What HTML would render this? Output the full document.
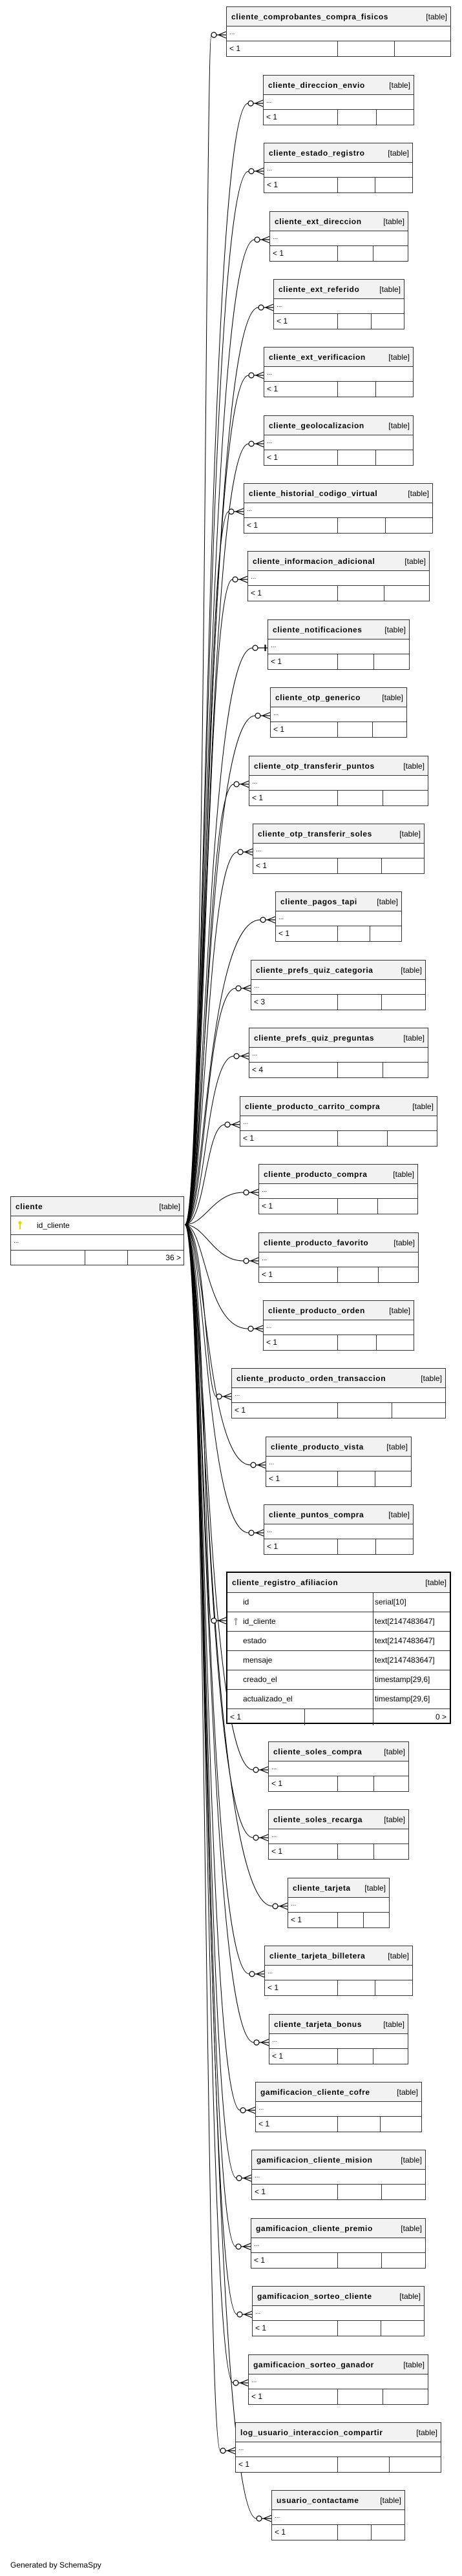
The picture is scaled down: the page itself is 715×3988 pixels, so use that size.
<!DOCTYPE html>
<html><head><meta charset="utf-8"><style>
body{margin:0;width:715px;height:3988px;background:#fff;position:relative;font-family:"Liberation Sans",sans-serif;overflow:hidden}
.t{position:absolute;border:1px solid #333;background:#fff;box-sizing:border-box;font-size:12px;color:#000}
.h{height:29px;background:#f2f2f2;border-bottom:1px solid #333;display:flex;justify-content:space-between;align-items:center;padding:0 5px 0 7px;white-space:nowrap}
.h b{font-size:12px;letter-spacing:0.6px}
.h span{font-size:12px}
.d{height:22px;border-bottom:1px solid #333;line-height:20px;padding-left:4px;font-size:10px;color:#333}
.f{height:23px;display:flex;line-height:22px}
.f i{font-style:normal;border-right:1px solid #333;padding-left:4px;box-sizing:border-box;height:23px}
.f i:last-child{border-right:none;flex:1}
svg{position:absolute;left:0;top:0}
.r{height:29px;border-bottom:1px solid #333;display:flex;line-height:28px;font-size:12px}
.r span:first-child{width:226px;border-right:1px solid #333;padding-left:24px;box-sizing:border-box;position:relative}
.r span:last-child{padding-left:2px}
</style></head><body>
<svg width="715" height="3988">
<defs><g id="m" fill="none" stroke="#000" stroke-width="1.2"><circle cx="-19" cy="0" r="4" fill="#fff"/><path d="M-15 0H0M0 -5L-12 0L0 5"/></g>
<g id="m1" fill="none" stroke="#000" stroke-width="1.2"><circle cx="-19" cy="0" r="4" fill="#fff"/><path d="M-15 0H0M-4 -5V5M-3 -5V5"/></g></defs>
<g fill="none" stroke="#000" stroke-width="1">
<path d="M286 1896C318 1896 318 54 327 54"/>
<path d="M286 1896C318 1896 318 160 384 160"/>
<path d="M286 1896C318 1896 318 265 385 265"/>
<path d="M286 1896C318 1896 318 371 394 371"/>
<path d="M286 1896C318 1896 318 476 400 476"/>
<path d="M286 1896C318 1896 318 581 385 581"/>
<path d="M286 1896C318 1896 318 687 385 687"/>
<path d="M286 1896C318 1896 318 792 354 792"/>
<path d="M286 1896C318 1896 318 897 360 897"/>
<path d="M286 1896C318 1896 318 1003 391 1003"/>
<path d="M286 1896C318 1896 318 1108 395 1108"/>
<path d="M286 1896C318 1896 318 1214 362 1214"/>
<path d="M286 1896C318 1896 318 1319 368 1319"/>
<path d="M286 1896C318 1896 318 1424 403 1424"/>
<path d="M286 1896C318 1896 318 1530 365 1530"/>
<path d="M286 1896C318 1896 318 1635 362 1635"/>
<path d="M286 1896C318 1896 318 1741 348 1741"/>
<path d="M286 1896C318 1896 330 1846 377 1846"/>
<path d="M286 1896C318 1896 330 1952 377 1952"/>
<path d="M286 1896C318 1896 318 2057 384 2057"/>
<path d="M286 1896C318 1896 318 2162 335 2162"/>
<path d="M286 1896C318 1896 318 2268 388 2268"/>
<path d="M286 1896C318 1896 318 2373 385 2373"/>
<path d="M286 1896C318 1896 318 2509 327 2509"/>
<path d="M286 1896C318 1896 318 2740 392 2740"/>
<path d="M286 1896C318 1896 318 2845 392 2845"/>
<path d="M286 1896C318 1896 318 2951 422 2951"/>
<path d="M286 1896C318 1896 318 3056 386 3056"/>
<path d="M286 1896C318 1896 318 3162 393 3162"/>
<path d="M286 1896C318 1896 318 3267 372 3267"/>
<path d="M286 1896C318 1896 318 3372 366 3372"/>
<path d="M286 1896C318 1896 318 3478 365 3478"/>
<path d="M286 1896C318 1896 318 3583 367 3583"/>
<path d="M286 1896C318 1896 318 3689 361 3689"/>
<path d="M286 1896C318 1896 318 3794 341 3794"/>
<path d="M286 1896C318 1896 318 3899 397 3899"/>
</g>
<use href="#m" x="350" y="54"/><use href="#m" x="407" y="160"/><use href="#m" x="408" y="265"/><use href="#m" x="417" y="371"/>
<use href="#m" x="423" y="476"/><use href="#m" x="408" y="581"/><use href="#m" x="408" y="687"/><use href="#m" x="377" y="792"/>
<use href="#m" x="383" y="897"/><use href="#m1" x="414" y="1003"/><use href="#m" x="418" y="1108"/><use href="#m" x="385" y="1214"/>
<use href="#m" x="391" y="1319"/><use href="#m" x="426" y="1424"/><use href="#m" x="388" y="1530"/><use href="#m" x="385" y="1635"/>
<use href="#m" x="371" y="1741"/><use href="#m" x="400" y="1846"/><use href="#m" x="400" y="1952"/><use href="#m" x="407" y="2057"/>
<use href="#m" x="358" y="2162"/><use href="#m" x="411" y="2268"/><use href="#m" x="408" y="2373"/><use href="#m" x="350" y="2509"/>
<use href="#m" x="415" y="2740"/><use href="#m" x="415" y="2845"/><use href="#m" x="445" y="2951"/><use href="#m" x="409" y="3056"/>
<use href="#m" x="416" y="3162"/><use href="#m" x="395" y="3267"/><use href="#m" x="389" y="3372"/><use href="#m" x="388" y="3478"/>
<use href="#m" x="390" y="3583"/><use href="#m" x="384" y="3689"/><use href="#m" x="364" y="3794"/><use href="#m" x="420" y="3899"/>
</svg>

<div class="t" style="left:16px;top:1852px;width:269px;height:107px">
<div class="h"><b>cliente</b><span>[table]</span></div>
<div style="height:28px;border-bottom:1px solid #333;line-height:28px;font-size:12px;padding-left:40px;position:relative"><span style="position:absolute;left:11px;top:7px;width:6px;height:14px;"><svg width="6" height="14"><circle cx="3" cy="3" r="2.6" fill="#dddd00"/><rect x="2" y="4" width="2" height="9" fill="#dddd00"/></svg></span>id_cliente</div>
<div class="d" style="height:23px">...</div>
<div class="f" style="height:24px"><i style="width:115px"></i><i style="width:66px"></i><i style="text-align:right;padding-right:4px">36 &gt;</i></div>
</div>

<div class="t" style="left:350px;top:10px;width:348px"><div class="h"><b>cliente_comprobantes_compra_fisicos</b><span>[table]</span></div><div class="d">...</div><div class="f"><i style="width:172px">&lt; 1</i><i style="width:88px"></i><i></i></div></div>
<div class="t" style="left:407px;top:116px;width:234px"><div class="h"><b>cliente_direccion_envio</b><span>[table]</span></div><div class="d">...</div><div class="f"><i style="width:115px">&lt; 1</i><i style="width:60px"></i><i></i></div></div>
<div class="t" style="left:408px;top:221px;width:231px"><div class="h"><b>cliente_estado_registro</b><span>[table]</span></div><div class="d">...</div><div class="f"><i style="width:114px">&lt; 1</i><i style="width:58px"></i><i></i></div></div>
<div class="t" style="left:417px;top:327px;width:215px"><div class="h"><b>cliente_ext_direccion</b><span>[table]</span></div><div class="d">...</div><div class="f"><i style="width:105px">&lt; 1</i><i style="width:55px"></i><i></i></div></div>
<div class="t" style="left:423px;top:432px;width:203px"><div class="h"><b>cliente_ext_referido</b><span>[table]</span></div><div class="d">...</div><div class="f"><i style="width:99px">&lt; 1</i><i style="width:52px"></i><i></i></div></div>
<div class="t" style="left:408px;top:537px;width:232px"><div class="h"><b>cliente_ext_verificacion</b><span>[table]</span></div><div class="d">...</div><div class="f"><i style="width:114px">&lt; 1</i><i style="width:59px"></i><i></i></div></div>
<div class="t" style="left:408px;top:643px;width:232px"><div class="h"><b>cliente_geolocalizacion</b><span>[table]</span></div><div class="d">...</div><div class="f"><i style="width:114px">&lt; 1</i><i style="width:59px"></i><i></i></div></div>
<div class="t" style="left:377px;top:748px;width:293px"><div class="h"><b>cliente_historial_codigo_virtual</b><span>[table]</span></div><div class="d">...</div><div class="f"><i style="width:145px">&lt; 1</i><i style="width:74px"></i><i></i></div></div>
<div class="t" style="left:383px;top:853px;width:282px"><div class="h"><b>cliente_informacion_adicional</b><span>[table]</span></div><div class="d">...</div><div class="f"><i style="width:139px">&lt; 1</i><i style="width:72px"></i><i></i></div></div>
<div class="t" style="left:414px;top:959px;width:220px"><div class="h"><b>cliente_notificaciones</b><span>[table]</span></div><div class="d">...</div><div class="f"><i style="width:108px">&lt; 1</i><i style="width:56px"></i><i></i></div></div>
<div class="t" style="left:418px;top:1064px;width:212px"><div class="h"><b>cliente_otp_generico</b><span>[table]</span></div><div class="d">...</div><div class="f"><i style="width:104px">&lt; 1</i><i style="width:54px"></i><i></i></div></div>
<div class="t" style="left:385px;top:1170px;width:278px"><div class="h"><b>cliente_otp_transferir_puntos</b><span>[table]</span></div><div class="d">...</div><div class="f"><i style="width:137px">&lt; 1</i><i style="width:70px"></i><i></i></div></div>
<div class="t" style="left:391px;top:1275px;width:266px"><div class="h"><b>cliente_otp_transferir_soles</b><span>[table]</span></div><div class="d">...</div><div class="f"><i style="width:131px">&lt; 1</i><i style="width:68px"></i><i></i></div></div>
<div class="t" style="left:426px;top:1380px;width:196px"><div class="h"><b>cliente_pagos_tapi</b><span>[table]</span></div><div class="d">...</div><div class="f"><i style="width:96px">&lt; 1</i><i style="width:50px"></i><i></i></div></div>
<div class="t" style="left:388px;top:1486px;width:271px"><div class="h"><b>cliente_prefs_quiz_categoria</b><span>[table]</span></div><div class="d">...</div><div class="f"><i style="width:134px">&lt; 3</i><i style="width:68px"></i><i></i></div></div>
<div class="t" style="left:385px;top:1591px;width:278px"><div class="h"><b>cliente_prefs_quiz_preguntas</b><span>[table]</span></div><div class="d">...</div><div class="f"><i style="width:137px">&lt; 4</i><i style="width:70px"></i><i></i></div></div>
<div class="t" style="left:371px;top:1697px;width:306px"><div class="h"><b>cliente_producto_carrito_compra</b><span>[table]</span></div><div class="d">...</div><div class="f"><i style="width:151px">&lt; 1</i><i style="width:77px"></i><i></i></div></div>
<div class="t" style="left:400px;top:1802px;width:247px"><div class="h"><b>cliente_producto_compra</b><span>[table]</span></div><div class="d">...</div><div class="f"><i style="width:122px">&lt; 1</i><i style="width:62px"></i><i></i></div></div>
<div class="t" style="left:400px;top:1908px;width:248px"><div class="h"><b>cliente_producto_favorito</b><span>[table]</span></div><div class="d">...</div><div class="f"><i style="width:122px">&lt; 1</i><i style="width:63px"></i><i></i></div></div>
<div class="t" style="left:407px;top:2013px;width:234px"><div class="h"><b>cliente_producto_orden</b><span>[table]</span></div><div class="d">...</div><div class="f"><i style="width:115px">&lt; 1</i><i style="width:60px"></i><i></i></div></div>
<div class="t" style="left:358px;top:2118px;width:332px"><div class="h"><b>cliente_producto_orden_transaccion</b><span>[table]</span></div><div class="d">...</div><div class="f"><i style="width:164px">&lt; 1</i><i style="width:84px"></i><i></i></div></div>
<div class="t" style="left:411px;top:2224px;width:226px"><div class="h"><b>cliente_producto_vista</b><span>[table]</span></div><div class="d">...</div><div class="f"><i style="width:111px">&lt; 1</i><i style="width:58px"></i><i></i></div></div>
<div class="t" style="left:408px;top:2329px;width:232px"><div class="h"><b>cliente_puntos_compra</b><span>[table]</span></div><div class="d">...</div><div class="f"><i style="width:114px">&lt; 1</i><i style="width:59px"></i><i></i></div></div>

<div class="t" style="left:350px;top:2433px;width:348px;height:236px;border:2px solid #000">
<div class="h" style="height:30px"><b>cliente_registro_afiliacion</b><span>[table]</span></div>
<div class="r"><span>id</span><span>serial[10]</span></div>
<div class="r"><span><svg style="position:absolute;left:10px;top:8px" width="6" height="13"><circle cx="3" cy="3" r="2.4" fill="#aaa"/><rect x="2" y="4" width="2" height="8" fill="#aaa"/></svg>id_cliente</span><span>text[2147483647]</span></div>
<div class="r"><span>estado</span><span>text[2147483647]</span></div>
<div class="r"><span>mensaje</span><span>text[2147483647]</span></div>
<div class="r"><span>creado_el</span><span>timestamp[29,6]</span></div>
<div class="r"><span>actualizado_el</span><span>timestamp[29,6]</span></div>
<div class="f" style="height:25px;line-height:24px"><i style="width:120px;height:25px">&lt; 1</i><i style="width:106px;height:25px"></i><i style="text-align:right;padding-right:5px">0 &gt;</i></div>
</div>

<div class="t" style="left:415px;top:2696px;width:218px"><div class="h"><b>cliente_soles_compra</b><span>[table]</span></div><div class="d">...</div><div class="f"><i style="width:107px">&lt; 1</i><i style="width:56px"></i><i></i></div></div>
<div class="t" style="left:415px;top:2801px;width:218px"><div class="h"><b>cliente_soles_recarga</b><span>[table]</span></div><div class="d">...</div><div class="f"><i style="width:107px">&lt; 1</i><i style="width:56px"></i><i></i></div></div>
<div class="t" style="left:445px;top:2907px;width:158px"><div class="h"><b>cliente_tarjeta</b><span>[table]</span></div><div class="d">...</div><div class="f"><i style="width:77px">&lt; 1</i><i style="width:40px"></i><i></i></div></div>
<div class="t" style="left:409px;top:3012px;width:230px"><div class="h"><b>cliente_tarjeta_billetera</b><span>[table]</span></div><div class="d">...</div><div class="f"><i style="width:113px">&lt; 1</i><i style="width:58px"></i><i></i></div></div>
<div class="t" style="left:416px;top:3118px;width:216px"><div class="h"><b>cliente_tarjeta_bonus</b><span>[table]</span></div><div class="d">...</div><div class="f"><i style="width:106px">&lt; 1</i><i style="width:55px"></i><i></i></div></div>
<div class="t" style="left:395px;top:3223px;width:258px"><div class="h"><b>gamificacion_cliente_cofre</b><span>[table]</span></div><div class="d">...</div><div class="f"><i style="width:127px">&lt; 1</i><i style="width:66px"></i><i></i></div></div>
<div class="t" style="left:389px;top:3328px;width:270px"><div class="h"><b>gamificacion_cliente_mision</b><span>[table]</span></div><div class="d">...</div><div class="f"><i style="width:133px">&lt; 1</i><i style="width:68px"></i><i></i></div></div>
<div class="t" style="left:388px;top:3434px;width:271px"><div class="h"><b>gamificacion_cliente_premio</b><span>[table]</span></div><div class="d">...</div><div class="f"><i style="width:134px">&lt; 1</i><i style="width:68px"></i><i></i></div></div>
<div class="t" style="left:390px;top:3539px;width:267px"><div class="h"><b>gamificacion_sorteo_cliente</b><span>[table]</span></div><div class="d">...</div><div class="f"><i style="width:132px">&lt; 1</i><i style="width:67px"></i><i></i></div></div>
<div class="t" style="left:384px;top:3645px;width:279px"><div class="h"><b>gamificacion_sorteo_ganador</b><span>[table]</span></div><div class="d">...</div><div class="f"><i style="width:138px">&lt; 1</i><i style="width:70px"></i><i></i></div></div>
<div class="t" style="left:364px;top:3750px;width:319px"><div class="h"><b>log_usuario_interaccion_compartir</b><span>[table]</span></div><div class="d">...</div><div class="f"><i style="width:158px">&lt; 1</i><i style="width:80px"></i><i></i></div></div>
<div class="t" style="left:420px;top:3855px;width:207px"><div class="h"><b>usuario_contactame</b><span>[table]</span></div><div class="d">...</div><div class="f"><i style="width:102px">&lt; 1</i><i style="width:52px"></i><i></i></div></div>

<div style="position:absolute;left:16px;top:3964px;font-size:12px;color:#000">Generated by SchemaSpy</div>
</body></html>
